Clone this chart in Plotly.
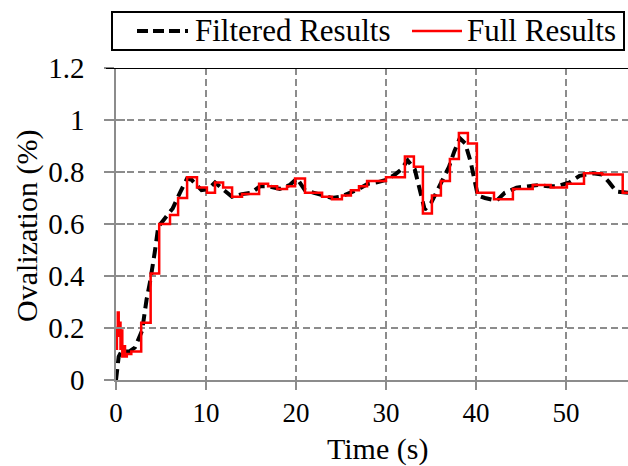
import plotly.graph_objects as go

# Time axis (s) and ovalization (%) values
full_time = [0.0, 0.1, 0.2, 0.3, 0.4, 0.5, 0.6, 0.7, 0.85, 1.0, 1.2, 1.7, 2.8, 3.85, 4.8,
             6.0, 6.9, 7.9, 9.0, 10.1, 11.0, 11.9, 12.9, 14.0, 15.9, 16.9, 17.9, 19.0,
             19.9, 21.0, 22.9, 24.0, 25.1, 26.1, 27.0, 27.9, 30.0, 32.1, 33.1, 34.1,
             35.1, 36.1, 37.1, 38.1, 39.1, 40.1, 42.0, 44.1, 46.3, 48.3, 50.1, 52.0,
             54.0, 56.3, 57.0]
full_oval = [0.12, 0.20, 0.26, 0.17, 0.22, 0.12, 0.19, 0.09, 0.13, 0.09, 0.10, 0.11, 0.22,
             0.41, 0.60, 0.635, 0.70, 0.78, 0.74, 0.72, 0.76, 0.74, 0.705, 0.715, 0.755,
             0.745, 0.735, 0.745, 0.775, 0.72, 0.705, 0.695, 0.71, 0.73, 0.745, 0.765,
             0.78, 0.86, 0.82, 0.64, 0.71, 0.765, 0.85, 0.95, 0.91, 0.72, 0.695, 0.735,
             0.75, 0.74, 0.755, 0.795, 0.79, 0.72, 0.72]

filt_time = [0.0, 0.15, 0.3, 0.6, 1.0, 1.5, 2.1, 2.9, 3.4, 3.8, 4.3, 4.7, 5.4, 6.3, 7.1,
             7.9, 8.4, 9.5, 10.3, 11.0, 12.0, 12.9, 14.0, 15.0, 16.0, 17.0, 18.2, 19.3,
             20.1, 21.0, 22.0, 23.0, 24.0, 25.0, 26.0, 27.0, 28.0, 29.0, 30.0, 31.0,
             31.7, 32.4, 33.2, 33.8, 34.3, 35.0, 36.0, 37.0, 37.6, 38.2, 38.8, 39.4,
             40.2, 41.0, 42.3, 43.2, 44.5, 46.0, 47.0, 48.0, 49.0, 50.4, 51.5, 53.0,
             54.0, 54.8, 55.6, 56.9]
filt_oval = [0.0, 0.05, 0.09, 0.11, 0.11, 0.11, 0.125, 0.19, 0.31, 0.38, 0.49, 0.59, 0.62,
             0.66, 0.72, 0.775, 0.77, 0.73, 0.735, 0.76, 0.73, 0.705, 0.715, 0.72, 0.745,
             0.745, 0.735, 0.75, 0.775, 0.73, 0.72, 0.71, 0.70, 0.705, 0.72, 0.735,
             0.755, 0.76, 0.77, 0.79, 0.81, 0.845, 0.81, 0.72, 0.655, 0.68, 0.75, 0.82,
             0.88, 0.93, 0.91, 0.84, 0.71, 0.70, 0.69, 0.72, 0.74, 0.745, 0.75, 0.745,
             0.745, 0.76, 0.785, 0.795, 0.79, 0.76, 0.725, 0.72]

x_ticks = [0, 10, 20, 30, 40, 50]
y_ticks = [0, 0.2, 0.4, 0.6, 0.8, 1.0, 1.2]
y_tick_text = ["0", "0.2", "0.4", "0.6", "0.8", "1", "1.2"]

FONT = "Liberation Serif, Times New Roman, serif"
GRID = "#8c8c8c"
W, H = 628, 466
ML, MR, MT, MB = 116, 0, 68, 86
PW = W - ML - MR
PH = H - MT - MB
X_MAX = PW / 9.0

fig = go.Figure()
fig.add_trace(go.Scatter(
    x=filt_time, y=filt_oval, mode="lines", name="Filtered Results",
    line=dict(color="black", width=4, dash="11px,6px"), showlegend=False))
fig.add_trace(go.Scatter(
    x=full_time, y=full_oval, mode="lines", name="Full Results",
    line=dict(color="#ff0000", width=2.5, shape="hv"), showlegend=False))

# invisible trace to host the inner half of the crossing y ticks
fig.add_trace(go.Scatter(x=[0], y=[0], yaxis="y2", mode="markers",
                         marker=dict(opacity=0), showlegend=False, hoverinfo="skip"))

fig.update_layout(
    width=W, height=H,
    margin=dict(l=ML, r=MR, t=MT, b=MB),
    paper_bgcolor="white", plot_bgcolor="white",
    font=dict(family=FONT, color="black"),
    xaxis=dict(range=[0, X_MAX], tickvals=x_ticks, showgrid=True, gridcolor=GRID,
               griddash="7px,4px", gridwidth=1.5, zeroline=False, showline=True,
               linecolor=GRID, linewidth=1.5, ticks="outside", ticklen=8,
               tickcolor=GRID, tickwidth=1.5, tickfont=dict(size=27, family=FONT),
               ticklabelstandoff=0),
    yaxis=dict(range=[0, 1.2], tickvals=y_ticks, ticktext=y_tick_text, showgrid=True,
               gridcolor=GRID, griddash="7px,4px", gridwidth=1.5, zeroline=False,
               showline=True, linecolor=GRID, linewidth=1.5, ticks="outside",
               ticklen=10, tickcolor=GRID, tickwidth=1.5,
               tickfont=dict(size=29, family=FONT), ticklabelstandoff=14),
    yaxis2=dict(range=[0, 1.2], tickvals=y_ticks, overlaying="y", side="left",
                showgrid=False, zeroline=False, showticklabels=False, ticks="inside",
                ticklen=9, tickcolor=GRID, tickwidth=1.5, showline=False),
    shapes=[
        # top border of the plot area
        dict(type="line", xref="paper", yref="y", x0=-10 / PW, x1=1, y0=1.2, y1=1.2,
             line=dict(color="black", width=2)),
        # legend box
        dict(type="rect", xref="paper", yref="paper",
             x0=(112 - ML) / PW, x1=(624 - ML) / PW,
             y0=(H - MB - 50) / PH, y1=(H - MB - 12) / PH,
             line=dict(color="black", width=2), fillcolor="white"),
        dict(type="line", xref="paper", yref="paper",
             x0=(137 - ML) / PW, x1=(188 - ML) / PW,
             y0=(H - MB - 31) / PH, y1=(H - MB - 31) / PH,
             line=dict(color="black", width=4, dash="11px,5px")),
        dict(type="line", xref="paper", yref="paper",
             x0=(412 - ML) / PW, x1=(462 - ML) / PW,
             y0=(H - MB - 31) / PH, y1=(H - MB - 31) / PH,
             line=dict(color="#ff0000", width=2.5)),
    ],
    annotations=[
        dict(text="Filtered Results", xref="paper", yref="paper",
             x=(193 - ML) / PW, y=(H - MB - 31) / PH, xanchor="left", yanchor="middle",
             showarrow=False, font=dict(size=31, family=FONT)),
        dict(text="Full Results", xref="paper", yref="paper",
             x=(465 - ML) / PW, y=(H - MB - 31) / PH, xanchor="left", yanchor="middle",
             showarrow=False, font=dict(size=31, family=FONT)),
        dict(text="Time (s)", xref="paper", yref="paper",
             x=(377 - ML) / PW, y=(H - MB - 449) / PH, xanchor="center",
             yanchor="middle", showarrow=False, font=dict(size=30, family=FONT)),
        dict(text="Ovalization (%)", xref="paper", yref="paper",
             x=(27 - ML) / PW, y=(H - MB - 226) / PH, xanchor="center",
             yanchor="middle", textangle=-90, showarrow=False,
             font=dict(size=30, family=FONT)),
    ],
)

fig.write_html("out.html", config={"displayModeBar": False})
